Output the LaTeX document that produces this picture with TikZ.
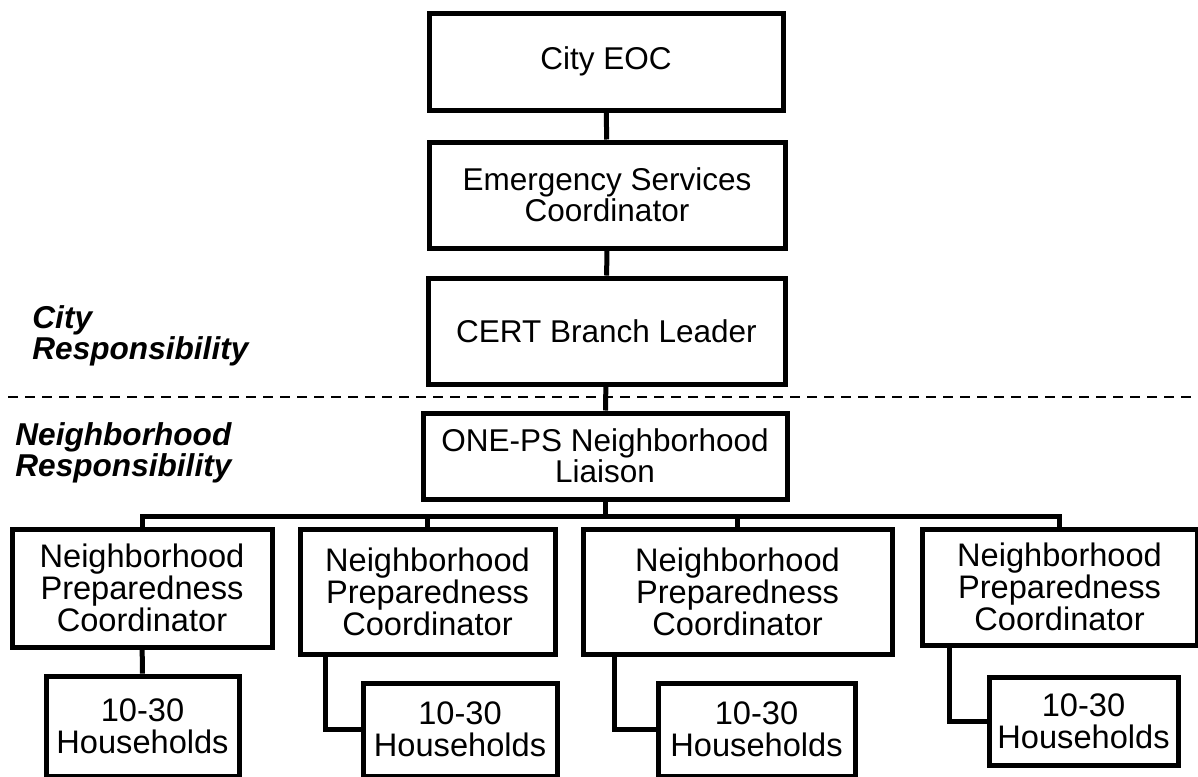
\documentclass[tikz,border=0pt]{standalone}
\usepackage{fontspec}
\setmainfont{Liberation Sans}
\usepackage{tikz}

\begin{document}
\begin{tikzpicture}[
                    x=0.5pt,
                    y=-0.5pt,
                    box/.style={
                        draw,
                        line width=2.5pt,
                        align=center,
                        inner sep=0pt,
                        font=\fontsize{15.75}{15.5}\selectfont
                    },
                    lowbox/.style={
                        box,
                        font=\fontsize{16.3}{16}\selectfont
                    },
                    link/.style={line width=2.5pt},
                    divider/.style={line width=1pt, dash pattern=on 5pt off 3.5pt},
                    side label/.style={
                        anchor=north west,
                        align=left,
                        inner sep=0pt,
                        font=\fontsize{15.8}{14.5}\selectfont\bfseries\itshape
                    }
                ]
                    \useasboundingbox (0,0) rectangle (1198,776);

                    % city chain
                    \node[box, minimum width=177pt, minimum height=48.5pt] (eoc) at (606,61.5) {City EOC};
                    \node[box, minimum width=178pt, minimum height=53pt] (esc) at (607,195) {Emergency Services\\Coordinator};
                    \node[box, minimum width=178.5pt, minimum height=53pt] (cert) at (606.5,331) {CERT Branch Leader};
                    \node[box, minimum width=182pt, minimum height=43pt] (liaison) at (605,456) {ONE-PS Neighborhood\\Liaison};

                    % neighborhood coordinators
                    \node[lowbox, minimum width=130pt, minimum height=59pt] (npc1) at (142,588) {Neighborhood\\Preparedness\\Coordinator};
                    \node[lowbox, minimum width=127.5pt, minimum height=62.5pt] (npc2) at (427.5,591.5) {Neighborhood\\Preparedness\\Coordinator};
                    \node[lowbox, minimum width=154.5pt, minimum height=62.5pt] (npc3) at (737.5,591.5) {Neighborhood\\Preparedness\\Coordinator};
                    \node[lowbox, minimum width=137.5pt, minimum height=58pt] (npc4) at (1059.5,587) {Neighborhood\\Preparedness\\Coordinator};

                    % households
                    \node[lowbox, minimum width=96.5pt, minimum height=50pt] (hh1) at (142.5,726) {10-30\\Households};
                    \node[lowbox, minimum width=97pt, minimum height=46.5pt] (hh2) at (460,729.5) {10-30\\Households};
                    \node[lowbox, minimum width=98.5pt, minimum height=46.5pt] (hh3) at (756.5,729.5) {10-30\\Households};
                    \node[lowbox, minimum width=94.5pt, minimum height=44pt] (hh4) at (1083.5,721) {10-30\\Households};

                    % responsibility split
                    \coordinate (divL) at (8,397);
                    \coordinate (divR) at (1198,397);
                    \draw[divider] (divL) -- (divR);
                    \node[side label] (cityresp) at (32,305) {City\\Responsibility};
                    \node[side label] (hoodresp) at (15,422) {Neighborhood\\Responsibility};

                    % connectors
                    \draw[link] (eoc) -- (esc);
                    \draw[link] (esc) -- (cert);
                    \draw[link] (cert) -- (liaison);
                    \coordinate (bus) at (605,516);
                    \draw[link] (liaison) -- (bus);
                    \draw[link] (npc1.north) |- (bus) -| (npc4.north);
                    \draw[link] (npc2.north) -- (npc2.north |- bus);
                    \draw[link] (npc3.north) -- (npc3.north |- bus);
                    \draw[link] (npc1) -- (hh1);
                    \draw[link] ([xshift=14pt]npc2.south west) |- (hh2.west);
                    \draw[link] ([xshift=17pt]npc3.south west) |- (hh3.west);
                    \draw[link] ([xshift=15pt]npc4.south west) |- (hh4.west);
                \end{tikzpicture}
\end{document}
